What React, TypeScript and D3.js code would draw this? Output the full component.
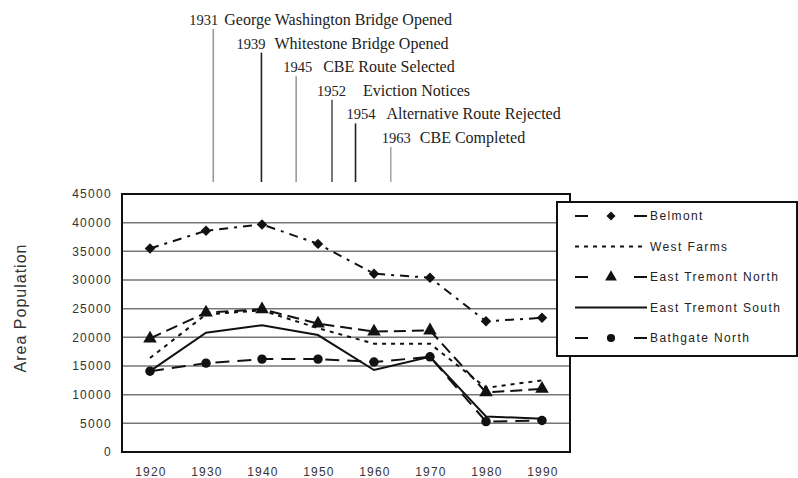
import React from "react";
import * as d3 from "d3";

// decades on the x axis
const years = [1920, 1930, 1940, 1950, 1960, 1970, 1980, 1990];

// population per area
const belmont = [35500, 38600, 39700, 36300, 31100, 30400, 22800, 23400];
const westFarms = [16400, 24000, 24700, 21600, 18900, 18900, 11200, 12500];
const eastTremontNorth = [19800, 24300, 24900, 22400, 21000, 21200, 10400, 11000];
const eastTremontSouth = [14100, 20800, 22100, 20400, 14300, 16600, 6200, 5800];
const bathgateNorth = [14100, 15500, 16200, 16200, 15700, 16600, 5300, 5500];

const seriesNames = ["Belmont", "West Farms", "East Tremont North", "East Tremont South", "Bathgate North"];
const seriesValues = [belmont, westFarms, eastTremontNorth, eastTremontSouth, bathgateNorth];

const yTicks = [0, 5000, 10000, 15000, 20000, 25000, 30000, 35000, 40000, 45000];

// timeline events above the chart
const eventYears = ["1931", "1939", "1945", "1952", "1954", "1963"];
const eventLabels = [
  "George Washington Bridge Opened",
  "Whitestone Bridge Opened",
  "CBE Route Selected",
  "Eviction Notices",
  "Alternative Route Rejected",
  "CBE Completed",
];
// where each event's drop line sits on the year axis
const eventLineAt = [1931.3, 1939.9, 1946.1, 1952.5, 1956.7, 1963];

// layout / style
const W = 798;
const H = 478;
const plot = { left: 122, right: 570, top: 194, bottom: 452 };
const dashes = ["9,6,3,6", "4,5", "12,6", null, "14,8"];
const markers = [d3.symbolDiamond2, null, d3.symbolTriangle, null, d3.symbolCircle];
const markerSize = [70, 0, 80, 0, 70];
const eventTextDx = [-24, -25, -13, -15, -9, -9];
const eventLabelDx = [35, 38, 40, 46, 40, 38];
const eventLineColor = ["#999", "#222", "#999", "#555", "#222", "#aaa"];

export default function App() {
  const x = d3.scalePoint<number>().domain(years).range([plot.left, plot.right]).padding(0.5);
  const xYear = d3
    .scaleLinear()
    .domain([years[0], years[years.length - 1]])
    .range([x(years[0])!, x(years[years.length - 1])!]);
  const y = d3.scaleLinear().domain([0, 45000]).range([plot.bottom, plot.top]);

  const line = d3
    .line<number>()
    .x((d, i) => x(years[i])!)
    .y((d) => y(d));

  const sans = "'Liberation Sans', Arial, sans-serif";
  const serif = "'Liberation Serif', 'Times New Roman', serif";

  return (
    <svg width={W} height={H} style={{ position: "absolute", left: 0, top: 0, background: "#fff" }}>
      {/* timeline annotations */}
      {eventYears.map((yr, i) => {
        const lx = xYear(eventLineAt[i]);
        const base = 25 + i * 23.6;
        return (
          <g key={yr}>
            <text x={lx + eventTextDx[i]} y={base} fontFamily={serif} fontSize={14.5} fill="#222">
              {yr}
            </text>
            <text x={lx + eventTextDx[i] + eventLabelDx[i]} y={base} fontFamily={serif} fontSize={16} fill="#222">
              {eventLabels[i]}
            </text>
            <line x1={lx} x2={lx} y1={base + 4} y2={182} stroke={eventLineColor[i]} strokeWidth={1.6} />
          </g>
        );
      })}

      {/* gridlines */}
      {yTicks
        .filter((t) => t > 0 && t < 45000)
        .map((t) => (
          <line key={t} x1={plot.left} x2={plot.right} y1={y(t)} y2={y(t)} stroke="#777" strokeWidth={1.5} />
        ))}

      {/* y axis labels */}
      {yTicks.map((t) => (
        <text
          key={t}
          x={112}
          y={y(t)}
          dy="0.35em"
          textAnchor="end"
          fontFamily={sans}
          fontSize={12}
          letterSpacing={1.3}
          fill="#333"
        >
          {t}
        </text>
      ))}

      {/* x axis labels */}
      {years.map((yr) => (
        <text
          key={yr}
          x={x(yr)! + 1}
          y={476}
          textAnchor="middle"
          fontFamily={sans}
          fontSize={12}
          letterSpacing={1.2}
          fill="#333"
        >
          {yr}
        </text>
      ))}

      <text
        transform={`translate(26,308) rotate(-90)`}
        textAnchor="middle"
        fontFamily={sans}
        fontSize={16}
        letterSpacing={1}
        fill="#333"
      >
        Area Population
      </text>

      {/* series */}
      {seriesValues.map((vals, s) => (
        <g key={seriesNames[s]}>
          <path
            d={line(vals)!}
            fill="none"
            stroke="#111"
            strokeWidth={2}
            strokeDasharray={dashes[s] ?? undefined}
          />
          {markers[s] &&
            vals.map((v, i) => (
              <path
                key={i}
                transform={`translate(${x(years[i])},${y(v)})`}
                d={d3.symbol(markers[s]!, markerSize[s])()!}
                fill="#111"
              />
            ))}
        </g>
      ))}

      {/* plot frame */}
      <rect
        x={plot.left}
        y={plot.top}
        width={plot.right - plot.left}
        height={plot.bottom - plot.top}
        fill="none"
        stroke="#111"
        strokeWidth={2}
      />

      {/* legend */}
      <g>
        <rect x={557} y={202} width={240} height={154} fill="#fff" stroke="#111" strokeWidth={2} />
        {seriesNames.map((name, s) => {
          const ly = 216 + s * 30.5;
          return (
            <g key={name}>
              <line
                x1={575}
                x2={647}
                y1={ly}
                y2={ly}
                stroke="#111"
                strokeWidth={2}
                strokeDasharray={markers[s] ? "13,46,13" : dashes[s] ?? undefined}
              />
              {markers[s] && (
                <path
                  transform={`translate(611,${ly})`}
                  d={d3.symbol(markers[s]!, markerSize[s] * 0.75)()!}
                  fill="#111"
                />
              )}
              <text
                x={650}
                y={ly}
                dy="0.35em"
                fontFamily={sans}
                fontSize={12}
                letterSpacing={1.4}
                fill="#222"
              >
                {name}
              </text>
            </g>
          );
        })}
      </g>
    </svg>
  );
}
